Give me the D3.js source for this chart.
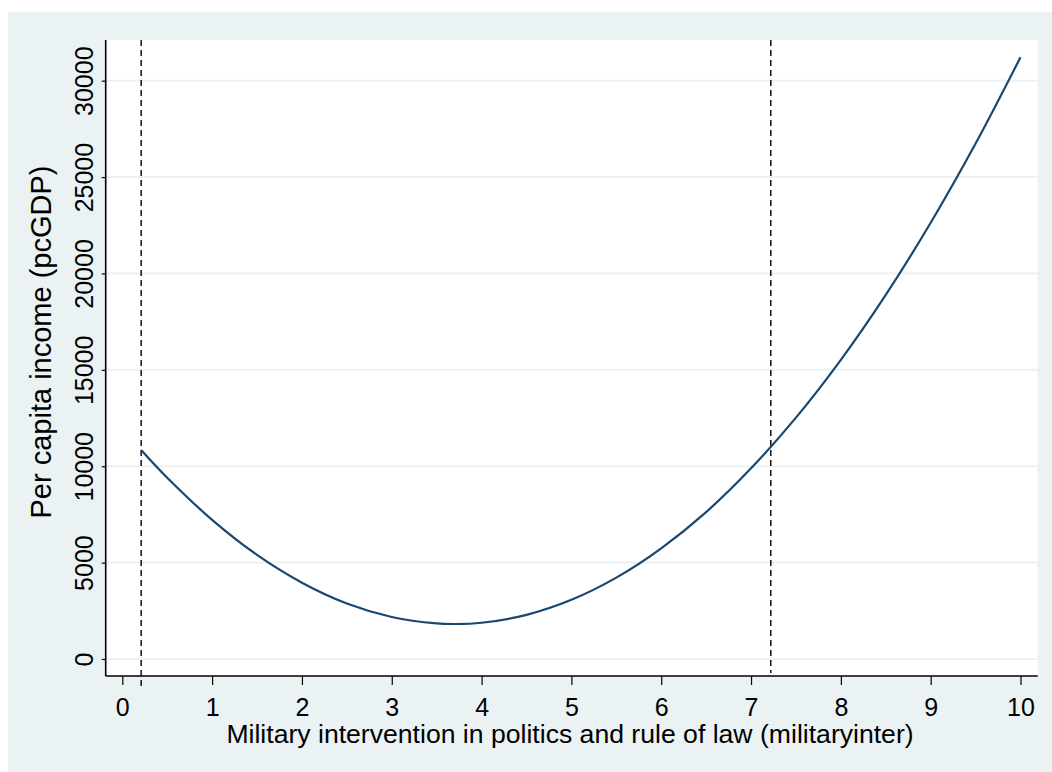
<!DOCTYPE html>
<html>
<head>
<meta charset="utf-8">
<script src="https://cdn.jsdelivr.net/npm/d3@7"></script>
<style>
  html, body { margin: 0; padding: 0; background: #ffffff; }
  svg { display: block; }
  text { font-family: "Liberation Sans", Arial, sans-serif; fill: #000; }
</style>
</head>
<body>
<svg id="chart" width="1052" height="772"></svg>
<script>
// Fitted per capita income along the military intervention index
const xValues = [0.21, 0.5, 1, 1.5, 2, 2.5, 3, 3.5, 3.7, 4, 4.5, 5, 5.5, 6, 6.5, 7, 7.5, 8, 8.5, 9, 9.5, 10];
const yValues = [10840, 9400, 7220, 5400, 3960, 2880, 2180, 1845, 1815, 1880, 2290, 3070, 4220, 5740, 7620, 9890, 12520, 15520, 18890, 22630, 26740, 31220];

// Reference lines (turning-range markers)
const refLines = [0.21, 7.22];

const xTicks = [0, 1, 2, 3, 4, 5, 6, 7, 8, 9, 10];
const yTicks = [0, 5000, 10000, 15000, 20000, 25000, 30000];

const xTitle = "Military intervention in politics and rule of law (militaryinter)";
const yTitle = "Per capita income (pcGDP)";

const svg = d3.select("#chart");
const W = 1052, H = 772;

// outer graph region
svg.append("rect").attr("x", 8).attr("y", 12).attr("width", W - 8).attr("height", H - 12)
  .attr("fill", "#eaf2f3");

const plot = { left: 105.7, right: 1037.7, top: 40, bottom: 676 };

svg.append("rect").attr("x", plot.left).attr("y", plot.top)
  .attr("width", plot.right - plot.left).attr("height", plot.bottom - plot.top)
  .attr("fill", "#ffffff");

const x = d3.scaleLinear().domain([0, 10]).range([122.3, 1020.5]);
const y = d3.scaleLinear().domain([0, 30000]).range([659, 80.7]);

// horizontal grid
svg.append("g").selectAll("line").data(yTicks).join("line")
  .attr("x1", plot.left).attr("x2", plot.right)
  .attr("y1", d => y(d)).attr("y2", d => y(d))
  .attr("stroke", "#eaf2f3").attr("stroke-width", 2);

// y axis
const yAxis = svg.append("g").attr("transform", `translate(${plot.left},0)`)
  .call(d3.axisLeft(y).tickValues(yTicks).tickSize(4).tickPadding(0).tickFormat(d3.format("d")));
yAxis.select(".domain").attr("d", `M0,${plot.top}V${plot.bottom}`).attr("stroke", "#000").attr("stroke-width", 1.6);
yAxis.selectAll(".tick line").attr("stroke", "#000").attr("stroke-width", 1.2);
yAxis.selectAll(".tick text")
  .attr("font-size", 25)
  .attr("x", null).attr("dy", null)
  .attr("text-anchor", "middle")
  .attr("transform", "translate(-13,0) rotate(-90)")
  .attr("y", 0);

// x axis
const xAxis = svg.append("g").attr("transform", `translate(0,${plot.bottom})`)
  .call(d3.axisBottom(x).tickValues(xTicks).tickSize(9).tickPadding(0).tickFormat(d3.format("d")));
xAxis.select(".domain").attr("d", `M${plot.left},0H${plot.right}`).attr("stroke", "#000").attr("stroke-width", 1.6);
xAxis.selectAll(".tick line").attr("stroke", "#000").attr("stroke-width", 1.2);
xAxis.selectAll(".tick text").attr("font-size", 25).attr("dy", null).attr("y", 40);

// reference lines
svg.append("line").attr("x1", x(refLines[0])).attr("x2", x(refLines[0]))
  .attr("y1", plot.top).attr("y2", 689)
  .attr("stroke", "#000").attr("stroke-width", 1.4).attr("stroke-dasharray", "6,4");
svg.append("line").attr("x1", x(refLines[1])).attr("x2", x(refLines[1]))
  .attr("y1", plot.top).attr("y2", 673)
  .attr("stroke", "#000").attr("stroke-width", 1.4).attr("stroke-dasharray", "6,4");

// fitted curve
const pts = xValues.map((v, i) => [v, yValues[i]]);
svg.append("path").datum(pts)
  .attr("fill", "none").attr("stroke", "#1a476f").attr("stroke-width", 2.2)
  .attr("d", d3.line().x(d => x(d[0])).y(d => y(d[1])).curve(d3.curveCatmullRom));

// titles
svg.append("text").attr("x", 570).attr("y", 743).attr("text-anchor", "middle")
  .attr("font-size", 26.6).text(xTitle);
svg.append("text").attr("transform", "translate(51,342) rotate(-90)").attr("text-anchor", "middle")
  .attr("font-size", 29).text(yTitle);
</script>
</body>
</html>
